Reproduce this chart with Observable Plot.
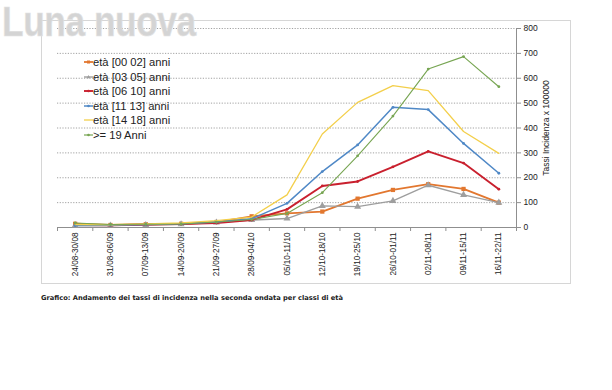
<!DOCTYPE html>
<html>
<head>
<meta charset="utf-8">
<script src="https://cdn.jsdelivr.net/npm/d3@7"></script>
<script src="https://cdn.jsdelivr.net/npm/@observablehq/plot@0.6"></script>
<style>
  html, body { margin: 0; padding: 0; background: #fff; }
  #wrap { position: relative; width: 612px; height: 390px; overflow: hidden; font-family: "Liberation Sans", Arial, sans-serif; }
  #frame { position: absolute; left: 41px; top: 20px; width: 528px; height: 262px; border: 1px solid #d6d6d6; }
  #chart { position: absolute; left: 0; top: 0; }
  #mark { position: absolute; left: 2px; top: -2px; font: bold 42px/48px "Liberation Sans", Arial, sans-serif; color: #d4d4d4; transform: scaleX(0.84); transform-origin: left top; letter-spacing: -0.5px; -webkit-text-stroke: 0.6px #e4e4e4; }
  #legend { position: absolute; left: 84px; top: 55px; font-size: 11.2px; color: #222; }
  #legend .row { height: 14.5px; line-height: 14.5px; display: flex; align-items: center; white-space: nowrap; }
  #legend svg { width: 9px; height: 10px; margin-right: 0px; }
  #caption { position: absolute; left: 41px; top: 294px; font: 600 6.7px "DejaVu Sans", Verdana, sans-serif; color: #222; white-space: nowrap; }
</style>
</head>
<body>
<div id="wrap">
  <div id="frame"></div>
  <div id="chart"></div>
  <div id="mark">Luna nuova</div>
  <div id="legend"></div>
  <div id="caption">Grafico: Andamento dei tassi di incidenza nella seconda ondata per classi di età</div>
</div>
<script>
const categories = ["24/08-30/08","31/08-06/09","07/09-13/09","14/09-20/09","21/09-27/09","28/09-04/10","05/10-11/10","12/10-18/10","19/10-25/10","26/10-01/11","02/11-08/11","09/11-15/11","16/11-22/11"];

const seriesNames = ["età [00 02] anni","età [03 05] anni","età [06 10] anni","età [11 13] anni","età [14 18] anni",">= 19 Anni"];
const seriesColors = ["#e2772f","#9e9e9e","#c9202e","#4f88c6","#f3cf4b","#77a552"];

const age0002 = [15,10,13,15,22,45,57,64,116,151,174,155,100];
const age0305 = [8,8,10,13,20,30,36,87,84,107,170,131,100];
const age0610 = [10,9,12,14,18,30,73,167,185,244,306,259,154];
const age1113 = [8,9,12,15,22,35,97,225,332,483,474,338,218];
const age1418 = [12,11,14,18,28,42,131,376,503,570,550,386,298];
const age19 = [18,12,13,14,22,32,56,140,288,448,637,687,566];

const yTicks = [0,100,200,300,400,500,600,700,800];

const seriesValues = [age0002, age0305, age0610, age1113, age1418, age19];
const symbols = ["square","triangle","circle","circle","circle","circle"];
const dotR = [2.4,2.6,1.4,1.4,0,1.4];
const widths = [1.8,1.4,1.9,1.5,1.3,1.1];

const lineMarks = [];
seriesValues.forEach((vals, s) => {
  const rows = vals.map((v, i) => ({i, v}));
  lineMarks.push(Plot.line(rows, {x: "i", y: "v", stroke: seriesColors[s], strokeWidth: widths[s]}));
  if (dotR[s] > 0) lineMarks.push(Plot.dot(rows, {x: "i", y: "v", fill: seriesColors[s], stroke: "none", r: dotR[s], symbol: () => symbols[s]}));
});

const chart = Plot.plot({
  width: 612,
  height: 390,
  marginLeft: 57,
  marginRight: 96,
  marginTop: 28,
  marginBottom: 163,
  style: {fontFamily: "'Liberation Sans', Arial, sans-serif", background: "transparent", color: "#222"},
  x: {type: "linear", domain: [-0.5, 12.5]},
  y: {domain: [0, 800]},
  symbol: {type: "identity"},
  marks: [
    Plot.gridY(yTicks.slice(1), {stroke: "#8a8a8a", strokeOpacity: 1, strokeDasharray: "1.2,1.5", strokeWidth: 0.8}),
    Plot.ruleY([0], {stroke: "#8f8f8f"}),
    Plot.ruleX([12.5], {y1: 0, y2: 800, stroke: "#8f8f8f"}),
    Plot.axisY(yTicks, {anchor: "right", tickSize: 4, tickPadding: 3, fontSize: 8.5, stroke: "#8f8f8f", label: "Tassi Incidenza x 100000", labelAnchor: "center", labelOffset: 32, labelArrow: "none"}),
    Plot.axisX(d3.range(-0.5, 13, 1), {tickSize: 4, tickFormat: () => "", stroke: "#8f8f8f", label: null}),
    Plot.axisX(d3.range(0, 13), {tickSize: 0, tickPadding: 5, tickRotate: -90, fontSize: 8.2, tickFormat: i => categories[i], label: null}),
    ...lineMarks
  ]
});
document.getElementById("chart").appendChild(chart);

// legend
const legend = document.getElementById("legend");
seriesNames.forEach((name, s) => {
  const row = document.createElement("div");
  row.className = "row";
  let marker = "";
  const c = seriesColors[s];
  if (symbols[s] === "square") marker = `<rect x="3" y="3.5" width="3" height="3" fill="${c}"/>`;
  else if (symbols[s] === "triangle") marker = `<path d="M4.5,3 L6.3,6.3 L2.7,6.3 Z" fill="${c}"/>`;
  else if (dotR[s] > 0) marker = `<circle cx="4.5" cy="5" r="1.3" fill="${c}"/>`;
  row.innerHTML = `<svg viewBox="0 0 9 10"><line x1="0" y1="5" x2="9" y2="5" stroke="${c}" stroke-width="${Math.max(widths[s],1.2)}"/>${marker}</svg><span>${name}</span>`;
  legend.appendChild(row);
});
</script>
</body>
</html>
